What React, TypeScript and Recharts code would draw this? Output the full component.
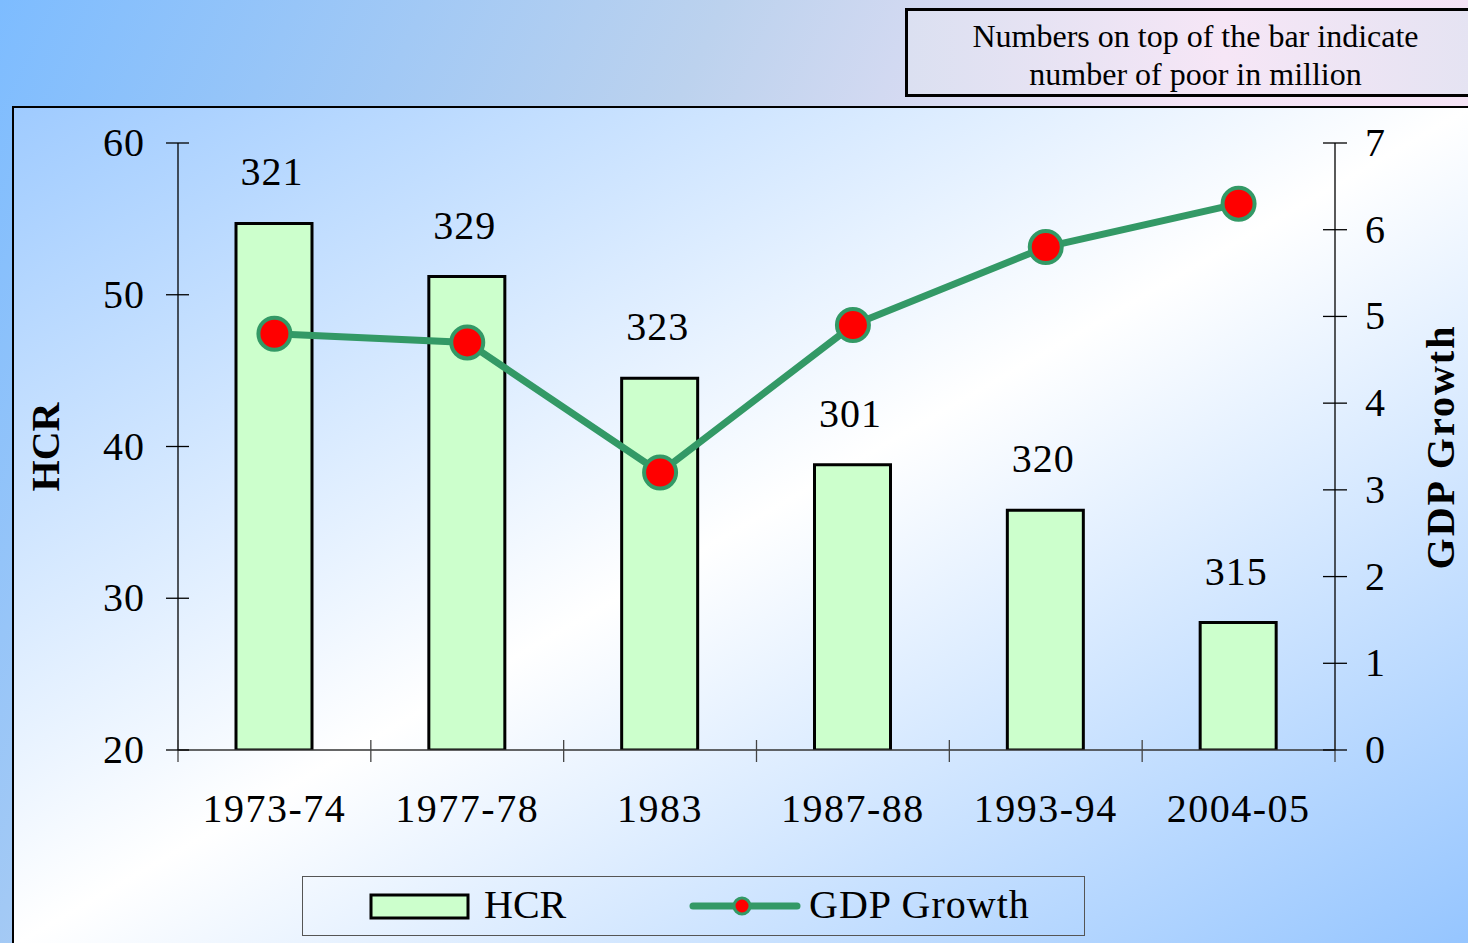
import { ComposedChart, Bar, Line, XAxis, YAxis, LabelList } from 'recharts';

const periods = ['1973-74', '1977-78', '1983', '1987-88', '1993-94', '2004-05'];
const hcr = [54.7, 51.2, 44.5, 38.8, 35.8, 28.4];
const gdpGrowth = [4.8, 4.7, 3.2, 4.9, 5.8, 6.3];
const poorMillion = [321, 329, 323, 301, 320, 315];
const hcrTicks = [20, 30, 40, 50, 60];
const gdpTicks = [0, 1, 2, 3, 4, 5, 6, 7];

const chartData = periods.map((p, i) => ({ period: p, hcr: hcr[i], gdp: gdpGrowth[i], poor: poorMillion[i] }));

const FONT = '"Liberation Serif", "Times New Roman", serif';
const W = 1468;
const H = 943;
const PLOT_LEFT = 178;
const PLOT_RIGHT = 1335;
const PLOT_TOP = 143;
const PLOT_BOTTOM = 750;
const BAND = (PLOT_RIGHT - PLOT_LEFT) / periods.length;

const LeftTick = (props: any) => {
  const { x, y, payload } = props;
  return (
    <g>
      <line x1={x - 12} x2={x + 11} y1={y} y2={y} stroke="#000" strokeWidth={1.3} />
      <text x={x - 33} y={y} dy={13} textAnchor="end" fontFamily={FONT} fontSize={40} letterSpacing={1} fill="#000">{payload.value}</text>
    </g>
  );
};

const RightTick = (props: any) => {
  const { x, y, payload } = props;
  return (
    <g>
      <line x1={x - 12} x2={x + 12} y1={y} y2={y} stroke="#000" strokeWidth={1.3} />
      <text x={x + 30} y={y} dy={13} textAnchor="start" fontFamily={FONT} fontSize={40} fill="#000">{payload.value}</text>
    </g>
  );
};

const BottomTick = (props: any) => {
  const { x, y, payload, index } = props;
  const left = x - BAND / 2;
  const right = x + BAND / 2;
  return (
    <g>
      <line x1={left} x2={left} y1={y - 10} y2={y + 12} stroke="#444" strokeWidth={1.3} />
      {index === periods.length - 1 && <line x1={right} x2={right} y1={y - 10} y2={y + 12} stroke="#444" strokeWidth={1.3} />}
      <text x={x} y={y + 72} textAnchor="middle" fontFamily={FONT} fontSize={40} letterSpacing={1.5} fill="#000">{payload.value}</text>
    </g>
  );
};

const PoorLabel = (props: any) => {
  const { x, y, width, value } = props;
  return (
    <text x={x + width / 2 - 2} y={y - 38} textAnchor="middle" fontFamily={FONT} fontSize={40} letterSpacing={1} fill="#000">{value}</text>
  );
};

export default function App() {
  return (
    <div style={{ position: 'absolute', left: 0, top: 0, width: W, height: H, overflow: 'hidden', fontFamily: FONT,
      background: 'linear-gradient(115deg, #7dbcff 0%, #bcd2ee 38%, #f4e4f6 65%, #f6e2f4 100%)' }}>
      {/* note box */}
      <div style={{ position: 'absolute', left: 905, top: 8, width: 575, height: 77, border: '3px solid #000',
        background: 'linear-gradient(to right, #dbe0f1, #f6e6f6 55%, #e4e3f2)', textAlign: 'center',
        fontSize: 32, lineHeight: '38px', paddingTop: 6, boxSizing: 'content-box', color: '#000' }}>
        Numbers on top of the bar indicate<br />number of poor in million
      </div>

      {/* chart panel */}
      <div style={{ position: 'absolute', left: 12, top: 106, width: W - 12, height: H - 106, borderLeft: '2px solid #000',
        borderTop: '2px solid #000', background: 'linear-gradient(to bottom right, #9fcbff 0%, #ffffff 50%, #95c5ff 100%)' }} />

      <div style={{ position: 'absolute', left: 0, top: 0 }}>
        <ComposedChart width={W} height={H} data={chartData}
          margin={{ top: PLOT_TOP, bottom: H - PLOT_BOTTOM - 60, left: PLOT_LEFT - 100, right: W - PLOT_RIGHT - 100 }}>
          <XAxis dataKey="period" height={60} axisLine={{ stroke: '#333', strokeWidth: 1.3 }} tickLine={false}
            tickSize={0} tickMargin={0} tick={<BottomTick />} interval={0} />
          <YAxis yAxisId="hcr" width={100} domain={[20, 60]} ticks={hcrTicks} allowDataOverflow
            axisLine={{ stroke: '#000', strokeWidth: 1.3 }} tickLine={false} tickSize={0} tickMargin={0} tick={<LeftTick />} />
          <YAxis yAxisId="gdp" orientation="right" width={100} domain={[0, 7]} ticks={gdpTicks}
            axisLine={{ stroke: '#000', strokeWidth: 1.3 }} tickLine={false} tickSize={0} tickMargin={0} tick={<RightTick />} />
          <Bar yAxisId="hcr" dataKey="hcr" barSize={76} fill="#ccffcc" stroke="#000" strokeWidth={3} isAnimationActive={false}>
            <LabelList dataKey="poor" content={<PoorLabel />} />
          </Bar>
          <Line yAxisId="gdp" dataKey="gdp" type="linear" stroke="#339966" strokeWidth={7}
            dot={{ r: 16, fill: '#ff0000', stroke: '#339966', strokeWidth: 4 }} activeDot={false} isAnimationActive={false} />
        </ComposedChart>
      </div>

      {/* axis titles */}
      <div style={{ position: 'absolute', left: 45, top: 447, transform: 'translate(-50%, -50%) rotate(-90deg)',
        fontSize: 40, fontWeight: 'bold', whiteSpace: 'nowrap', color: '#000' }}>HCR</div>
      <div style={{ position: 'absolute', left: 1440, top: 447, transform: 'translate(-50%, -50%) rotate(-90deg)',
        fontSize: 40, fontWeight: 'bold', letterSpacing: 2, whiteSpace: 'nowrap', color: '#000' }}>GDP Growth</div>

      {/* legend */}
      <div style={{ position: 'absolute', left: 302, top: 876, width: 781, height: 58, border: '1.5px solid #555' }}>
        <svg width={781} height={58} style={{ position: 'absolute', left: 0, top: 0 }}>
          <rect x={68} y={18} width={97} height={23} fill="#ccffcc" stroke="#000" strokeWidth={3} />
          <text x={181} y={41} fontFamily={FONT} fontSize={40} fill="#000">HCR</text>
          <line x1={390} x2={494} y1={29} y2={29} stroke="#339966" strokeWidth={7} strokeLinecap="round" />
          <circle cx={439} cy={29} r={8} fill="#ff0000" stroke="#339966" strokeWidth={3} />
          <text x={506} y={41} fontFamily={FONT} fontSize={40} letterSpacing={1} fill="#000">GDP Growth</text>
        </svg>
      </div>
    </div>
  );
}
